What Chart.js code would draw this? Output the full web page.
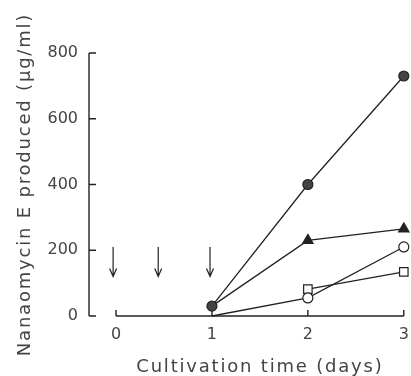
<!DOCTYPE html>
<html>
<head>
<meta charset="utf-8">
<script src="https://cdn.jsdelivr.net/npm/chart.js@4/dist/chart.umd.min.js"></script>
<style>
html,body{margin:0;padding:0;background:#fff;}
#wrap{width:411px;height:376px;}
</style>
</head>
<body>
<div id="wrap"><canvas id="c" width="411" height="376"></canvas></div>
<script>
// ---- data ----
const days = [1, 2, 3];
const filledCircle = [30, 400, 730];
const filledTriangle = [30, 230, 265];
const openCircle = [0, 55, 210];
const squareDays = [2, 3];
const openSquare = [82, 134];
const xTicks = [0, 1, 2, 3];
const yTicks = [0, 200, 400, 600, 800];
const arrowDays = [-0.03, 0.44, 0.98];
const arrowFrom = 210;
const arrowTo = 120;
const xTitle = 'Cultivation time (days)';
const yTitle = 'Nanaomycin E produced (µg/ml)';

const INK = '#222';
const TEXT = '#444';

function pts(xs, ys) { return xs.map((x, i) => ({x: x, y: ys[i]})); }

const axesPlugin = {
  id: 'axesPlugin',
  beforeDraw(chart) { chart.ctx.letterSpacing = '1.8px'; },
  beforeDatasetsDraw(chart) {
    const ctx = chart.ctx;
    ctx.letterSpacing = '0px';
    const xs = chart.scales.x, ys = chart.scales.y;
    const yAxisX = chart.chartArea.left - 27;
    ctx.save();
    ctx.strokeStyle = INK;
    ctx.lineWidth = 1.4;
    ctx.beginPath();
    ctx.moveTo(yAxisX, ys.getPixelForValue(yTicks[0]));
    ctx.lineTo(yAxisX, ys.getPixelForValue(yTicks[yTicks.length - 1]));
    yTicks.forEach(v => {
      const py = ys.getPixelForValue(v);
      ctx.moveTo(yAxisX, py);
      ctx.lineTo(yAxisX + 7, py);
    });
    const y0 = ys.getPixelForValue(0);
    ctx.moveTo(xs.getPixelForValue(xTicks[0]), y0);
    ctx.lineTo(xs.getPixelForValue(xTicks[xTicks.length - 1]), y0);
    xTicks.forEach(v => {
      const px = xs.getPixelForValue(v);
      ctx.moveTo(px, y0);
      ctx.lineTo(px, y0 - 6);
    });
    ctx.stroke();
    ctx.lineWidth = 1.2;
    ctx.beginPath();
    arrowDays.forEach(d => {
      const px = xs.getPixelForValue(d);
      const top = ys.getPixelForValue(arrowFrom);
      const bot = ys.getPixelForValue(arrowTo);
      ctx.moveTo(px, top);
      ctx.lineTo(px, bot);
      ctx.moveTo(px - 3.5, bot - 8);
      ctx.lineTo(px, bot);
      ctx.lineTo(px + 3.5, bot - 8);
    });
    ctx.stroke();
    ctx.restore();
  }
};

const common = {borderColor: INK, borderWidth: 1.3, pointBorderColor: INK, pointBorderWidth: 1.2, clip: false, tension: 0, showLine: true};

new Chart(document.getElementById('c'), {
  type: 'scatter',
  data: {
    datasets: [
      Object.assign({}, common, {label: 'filled circle', data: pts(days, filledCircle), pointStyle: 'circle', pointRadius: 5, pointBackgroundColor: '#444'}),
      Object.assign({}, common, {label: 'filled triangle', data: pts(days, filledTriangle), pointStyle: 'triangle', pointRadius: [0, 6, 6], pointBackgroundColor: '#222'}),
      Object.assign({}, common, {label: 'open circle', data: pts(days, openCircle), pointStyle: 'circle', pointRadius: [0, 5, 5], pointBackgroundColor: '#fff'}),
      Object.assign({}, common, {label: 'open square', data: pts(squareDays, openSquare), pointStyle: 'rect', pointRadius: 6, pointBackgroundColor: '#fff'})
    ]
  },
  options: {
    responsive: false,
    animation: false,
    events: [],
    layout: {padding: {top: 53, right: 0, left: 0, bottom: 0}},
    plugins: {legend: {display: false}, tooltip: {enabled: false}},
    scales: {
      x: {
        type: 'linear', min: 0, max: 3,
        afterBuildTicks: s => { s.ticks = xTicks.map(v => ({value: v})); },
        afterFit: s => { s.height = 60; s.paddingRight = 5; s.paddingLeft = 0; },
        grid: {display: false, drawTicks: false},
        border: {display: false},
        ticks: {z: 1, padding: 9, color: TEXT, font: {family: 'DejaVu Sans', size: 16}, maxRotation: 0},
        title: {display: true, text: xTitle, color: TEXT, font: {family: 'DejaVu Sans', size: 18, lineHeight: 1}, padding: {top: 0, bottom: 0}}
      },
      y: {
        type: 'linear', min: 0, max: 800,
        afterBuildTicks: s => { s.ticks = yTicks.map(v => ({value: v})); },
        afterFit: s => { s.width = 116; },
        grid: {display: false, drawTicks: false},
        border: {display: false},
        ticks: {z: 1, padding: 38, color: TEXT, font: {family: 'DejaVu Sans', size: 16}},
        title: {display: true, text: yTitle, color: TEXT, font: {family: 'DejaVu Sans', size: 18, lineHeight: 1}, padding: {top: 16, bottom: 0}}
      }
    }
  },
  plugins: [axesPlugin]
});
</script>
</body>
</html>
